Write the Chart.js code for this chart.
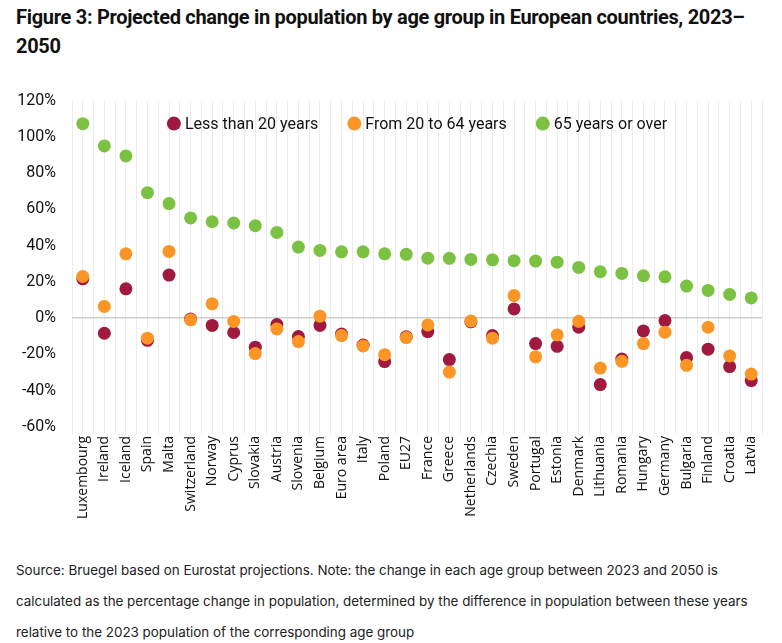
<!DOCTYPE html>
<html>
<head>
<meta charset="utf-8">
<script src="https://cdn.jsdelivr.net/npm/chart.js@4.4.1/dist/chart.umd.min.js"></script>
<style>
  html, body { margin: 0; padding: 0; background: #fff; }
  body { width: 782px; height: 643px; position: relative; overflow: hidden; }
  #title {
    position: absolute; left: 16px; top: 3px; white-space: nowrap;
    font-family: Roboto, sans-serif; letter-spacing: -0.3px;
    font-weight: bold; font-size: 20px; line-height: 29px; color: #111;
  }
  #wrap { position: absolute; left: 0; top: 75px; width: 782px; height: 467px; }
  #note {
    position: absolute; left: 16px; top: 555px; white-space: nowrap;
    font-family: Inter, Roboto, sans-serif;
    font-size: 13.4px; line-height: 31px; color: #222;
  }
</style>
</head>
<body>
<div id="title">Figure 3: Projected change in population by age group in European countries, 2023–<br>2050</div>
<div id="wrap"><canvas id="myChart"></canvas></div>
<div id="note">Source: Bruegel based on Eurostat projections. Note: the change in each age group between 2023 and 2050 is<br>calculated as the percentage change in population, determined by the difference in population between these years<br>relative to the 2023 population of the corresponding age group</div>
<script>
const countries = ['Luxembourg', 'Ireland', 'Iceland', 'Spain', 'Malta', 'Switzerland', 'Norway', 'Cyprus',
    'Slovakia', 'Austria', 'Slovenia', 'Belgium', 'Euro area', 'Italy', 'Poland', 'EU27', 'France', 'Greece',
    'Netherlands', 'Czechia', 'Sweden', 'Portugal', 'Estonia', 'Denmark', 'Lithuania', 'Romania', 'Hungary',
    'Germany', 'Bulgaria', 'Finland', 'Croatia', 'Latvia'];

const under20 = [21.7, -8.3, 16.2, -12.2, 23.8, -0.5, -4.0, -7.9, -16.0, -3.5, -10.1, -4.0, -8.7, -14.8,
    -23.9, -10.2, -7.4, -22.8, -2.0, -9.6, 5.1, -14.0, -15.5, -5.0, -36.6, -22.5, -7.0, -1.3, -21.7, -17.1,
    -26.7, -34.4];
const from20to64 = [23.0, 6.5, 35.5, -11.0, 36.8, -0.9, 7.9, -1.8, -19.5, -5.9, -12.9, 1.1, -9.6, -15.3,
    -20.1, -10.7, -3.7, -29.7, -1.6, -11.0, 12.5, -21.3, -9.2, -1.7, -27.5, -23.8, -14.0, -7.7, -26.0, -5.0,
    -20.8, -30.8];
const over65 = [107.3, 95.0, 89.5, 69.2, 63.2, 55.3, 53.2, 52.5, 51.0, 47.3, 39.2, 37.4, 36.6, 36.6, 35.5,
    35.2, 33.1, 33.0, 32.4, 32.2, 31.7, 31.5, 30.9, 28.0, 25.6, 24.7, 23.4, 22.8, 17.7, 15.3, 13.1, 11.2];

const seriesNames = ['Less than 20 years', 'From 20 to 64 years', '65 years or over'];
const yTicks = [-60, -40, -20, 0, 20, 40, 60, 80, 100, 120];

const colors = ['#a0193f', '#fb9526', '#7cc242'];
const labelFont = 'Roboto, sans-serif';

function toPoints(values) {
    return values.map((v, i) => ({ x: i, y: v }));
}

function makeDataset(idx, values, order) {
    return {
        label: seriesNames[idx],
        data: toPoints(values),
        backgroundColor: colors[idx],
        borderColor: colors[idx],
        pointRadius: 6.5,
        pointHoverRadius: 6.5,
        borderWidth: 0,
        order: order
    };
}

// legend sits inside the plot, one row across the top
const innerLegend = {
    id: 'innerLegend',
    afterDatasetsDraw(chart) {
        const ctx = chart.ctx;
        const area = chart.chartArea;
        const sets = chart.data.datasets;
        ctx.save();
        ctx.font = '16px ' + labelFont;
        ctx.textBaseline = 'middle';
        const widths = sets.map(ds => ctx.measureText(ds.label).width);
        const gap = 29;
        let total = 0;
        widths.forEach(w => { total += 18 + w; });
        total += gap * (sets.length - 1);
        let x = (area.left + area.right) / 2 - total / 2;
        const y = area.top + 23;
        sets.forEach((ds, i) => {
            ctx.fillStyle = ds.backgroundColor;
            ctx.beginPath();
            ctx.arc(x + 7, y, 7, 0, Math.PI * 2);
            ctx.fill();
            ctx.fillStyle = '#111';
            ctx.fillText(ds.label, x + 18, y + 1);
            x += 18 + widths[i] + gap;
        });
        ctx.restore();
    }
};

const ctx = document.getElementById('myChart').getContext('2d');

new Chart(ctx, {
    type: 'scatter',
    data: {
        datasets: [
            makeDataset(0, under20, 3),
            makeDataset(1, from20to64, 2),
            makeDataset(2, over65, 1)
        ]
    },
    options: {
        responsive: true,
        maintainAspectRatio: false,
        animation: false,
        layout: { padding: { top: 4, right: 20, left: 0, bottom: 0 } },
        plugins: {
            legend: { display: false },
            tooltip: { enabled: false }
        },
        scales: {
            x: {
                type: 'linear',
                min: -0.5,
                max: countries.length - 0.5,
                afterBuildTicks: (scale) => {
                    const t = [];
                    for (let v = -0.5; v <= countries.length - 0.5; v += 0.5) t.push({ value: v });
                    scale.ticks = t;
                },
                afterFit: (scale) => { scale.height = 115; },
                border: { display: false },
                grid: { color: '#ececec', lineWidth: 1, tickLength: 7 },
                ticks: {
                    autoSkip: false,
                    maxRotation: 90,
                    minRotation: 90,
                    padding: 2,
                    color: '#111',
                    font: { family: '"Open Sans", "Noto Sans", sans-serif', size: 14 },
                    callback: (v) => Number.isInteger(v) ? countries[v] : ''
                }
            },
            y: {
                min: yTicks[0],
                max: yTicks[yTicks.length - 1],
                afterBuildTicks: (scale) => { scale.ticks = yTicks.map(v => ({ value: v })); },
                afterFit: (scale) => { scale.width = 72; },
                border: { display: false },
                grid: {
                    drawTicks: false,
                    color: (c) => c.tick && c.tick.value === 0 ? '#cfcfcf' : 'rgba(0,0,0,0)',
                    lineWidth: 1.5
                },
                ticks: {
                    padding: 16,
                    color: '#111',
                    font: { family: labelFont, size: 16 },
                    callback: (v) => v + '%'
                }
            }
        }
    },
    plugins: [innerLegend]
});
</script>
</body>
</html>
